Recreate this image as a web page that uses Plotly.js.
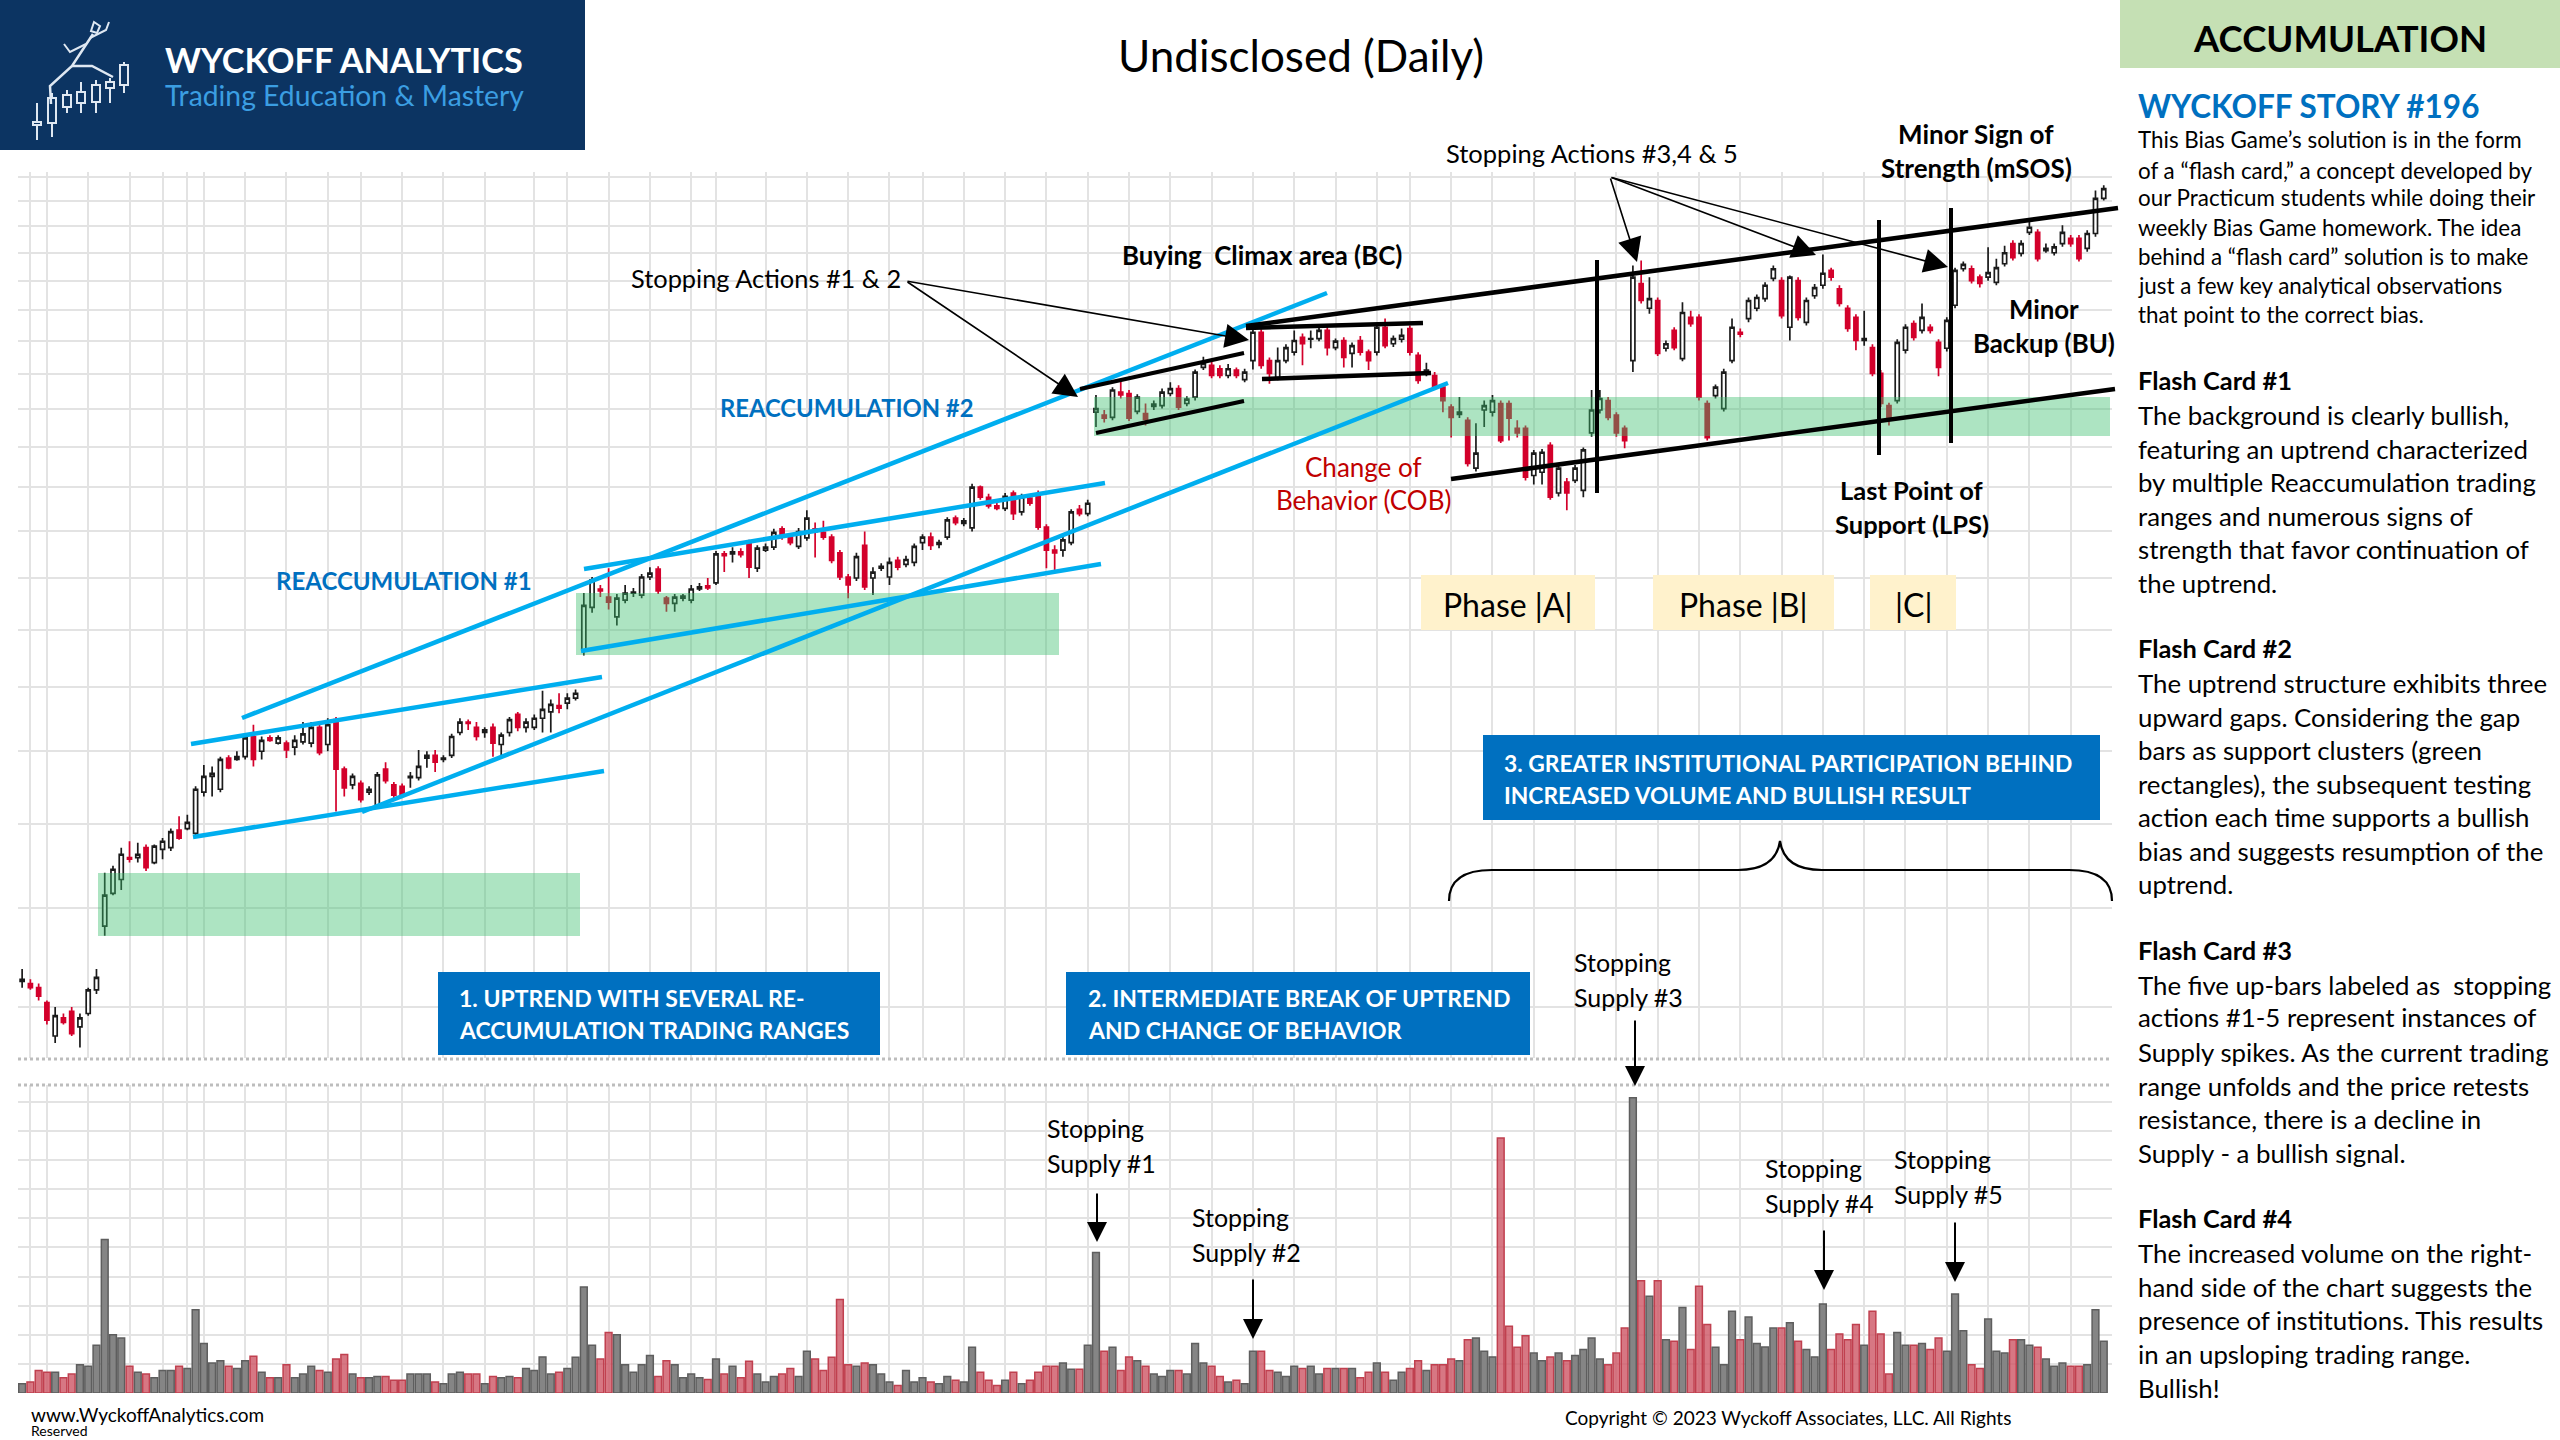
<!DOCTYPE html>
<html><head><meta charset="utf-8">
<script src="https://cdn.plot.ly/plotly-3.0.1.min.js"></script>
<style>html,body{margin:0;padding:0;background:#fff;}#chart{width:2560px;height:1440px;}</style>
</head><body><div id="chart"></div>
<script>
// ---------- DATA ----------
const openP = [
26.2,26.1,25.9,25.2,23.7,24.5,24.8,24.1,24.7,25.8,
29.0,30.8,31.6,32.9,32.9,33.5,32.6,33.4,33.5,34.6,
34.7,34.4,37.1,38.2,37.3,39.5,39.4,39.6,41.1,40.0,
41.0,40.6,40.6,40.3,40.7,40.6,41.8,40.5,42.4,38.7,
37.6,37.7,37.1,36.2,38.7,37.6,37.5,38.1,38.1,39.5,
39.7,39.4,39.7,41.4,42.2,41.8,41.4,41.8,40.5,41.4,
42.8,41.8,41.8,42.5,43.0,43.5,43.7,44.1,48.2,52.1,
53.9,53.1,51.2,52.8,53.5,53.3,55.1,55.9,53.0,52.5,
53.0,52.8,53.9,54.2,54.5,57.5,57.5,57.7,58.6,56.0,
57.9,58.2,60.2,59.3,58.3,59.2,60.2,59.8,59.3,57.6,
55.1,55.0,58.4,55.0,56.0,55.1,56.8,56.4,56.6,58.7,
59.3,58.5,59.3,61.4,60.8,60.3,65.0,63.8,62.8,62.5,
64.3,62.1,63.7,64.0,60.4,57.9,57.9,58.7,62.4,61.9,
74.6,74.2,73.9,77.4,77.2,74.7,74.4,75.4,75.5,77.2,
77.9,75.8,76.7,81.0,81.3,80.8,79.8,80.6,79.2,82.0,
86.4,82.0,79.5,82.0,83.3,85.6,85.3,85.4,86.7,84.0,
85.1,83.1,85.1,83.3,83.3,87.2,84.6,85.3,87.0,82.8,
80.1,79.8,78.1,75.3,74.3,73.5,67.3,74.9,74.6,75.8,
75.8,72.4,72.4,66.4,66.8,70.2,64.3,65.6,65.8,64.6,
71.8,74.9,76.2,74.2,72.4,82.0,94.5,90.3,91.6,83.9,
86.7,82.3,88.8,88.8,75.8,76.9,75.1,82.0,86.4,88.6,
90.3,91.9,95.4,95.0,87.2,95.0,88.0,92.4,94.2,96.8,
93.6,90.3,88.8,85.1,84.0,80.1,75.5,76.2,83.6,87.8,
86.7,87.2,84.8,83.9,90.8,97.1,97.1,95.6,95.6,94.7,
98.0,101.7,99.9,103.8,103.8,100.4,100.0,101.7,102.7,102.7,
100.8,103.6,110.5];
const highP = [
26.8,26.3,26.1,25.3,25.0,24.7,25.0,24.7,25.9,26.8,
32.0,32.4,33.5,33.9,33.8,33.7,33.7,34.1,34.7,35.5,
35.6,37.5,39.0,38.9,39.6,39.7,40.0,41.2,42.0,41.1,
41.2,41.2,40.8,41.2,42.2,42.2,42.0,42.5,42.6,38.9,
38.4,37.9,37.5,38.5,39.2,37.8,37.7,38.5,40.1,40.0,
40.1,39.7,41.3,42.5,42.4,42.2,41.8,42.1,41.4,42.6,
43.0,42.5,42.8,44.7,44.0,44.5,44.5,44.8,53.5,55.1,
54.3,56.0,53.4,54.3,54.0,55.4,56.1,56.2,53.2,53.4,
53.4,54.3,54.5,55.0,57.8,57.8,58.2,58.1,59.0,58.4,
58.6,60.2,60.5,59.6,60.3,62.3,60.9,61.1,59.6,57.9,
55.4,57.6,59.9,56.1,56.5,57.1,57.2,57.3,58.6,59.6,
59.8,59.0,61.5,61.7,61.4,65.4,65.2,64.2,63.2,64.3,
64.6,64.2,64.0,64.6,60.7,58.4,59.4,62.4,62.9,63.5,
77.0,74.9,78.1,78.9,77.7,77.1,75.8,76.2,77.9,78.8,
78.4,76.8,80.7,82.6,81.8,81.3,81.5,81.0,80.8,86.9,
86.9,82.5,84.0,84.5,86.7,86.2,86.7,87.2,87.2,85.4,
85.6,84.8,85.8,83.7,87.7,88.6,85.9,87.0,87.5,83.3,
81.7,80.3,78.5,75.7,76.7,73.9,73.1,76.2,77.0,76.2,
76.2,73.5,72.8,69.6,69.7,70.6,67.7,66.1,67.7,69.9,
77.7,77.7,76.7,74.6,72.8,97.7,98.6,95.6,92.1,85.1,
87.2,91.3,89.9,89.3,76.2,78.5,80.8,88.6,87.0,92.1,
92.6,94.7,97.7,95.6,95.9,95.6,92.1,94.4,99.7,97.3,
94.2,90.8,89.3,89.9,84.5,80.6,75.9,85.3,87.7,88.3,
91.1,87.7,85.3,88.8,97.3,98.4,97.7,96.1,101.0,98.9,
101.3,102.3,102.3,106.1,104.4,101.7,101.7,105.2,103.3,103.3,
104.2,112.1,113.2];
const lowP = [
25.9,25.8,25.3,24.2,23.4,24.2,23.7,23.2,24.6,25.6,
28.5,30.7,31.0,32.6,32.6,32.1,32.5,32.8,33.3,34.0,
34.6,34.2,36.8,36.8,37.1,38.7,39.3,39.4,38.9,39.4,
40.7,40.5,39.5,39.7,40.5,40.3,39.7,40.0,35.8,36.8,
37.3,36.4,36.9,36.0,37.7,36.7,36.7,37.4,37.9,38.8,
38.5,39.2,39.5,41.2,41.6,40.8,41.0,39.6,39.6,41.1,
41.5,41.4,41.6,41.4,41.4,42.9,43.2,43.9,47.7,51.6,
53.1,51.9,50.4,52.5,53.1,53.0,54.8,53.4,51.7,51.7,
52.7,52.5,53.7,53.8,54.3,55.6,56.6,57.1,55.0,55.6,
57.7,57.9,59.0,58.4,58.0,58.9,57.1,59.0,56.5,54.8,
53.0,54.7,53.8,53.3,55.7,54.3,55.8,56.1,56.2,57.9,
57.9,58.1,59.0,60.6,60.5,59.9,63.5,62.5,62.3,62.2,
61.2,61.7,62.8,60.1,56.0,55.5,57.2,58.4,61.6,61.6,
72.6,73.2,73.5,76.5,73.4,74.3,72.8,74.9,75.1,76.8,
74.9,75.4,76.2,80.6,79.4,79.4,79.4,79.4,78.8,80.7,
80.8,78.6,79.1,81.6,82.8,81.3,83.9,85.0,82.8,83.6,
81.0,81.0,82.8,80.6,82.8,83.9,84.1,84.8,82.8,78.6,
79.7,77.7,74.6,71.2,73.8,67.5,66.9,72.6,74.0,70.5,
70.8,71.2,65.8,65.3,65.3,63.5,63.9,62.3,65.5,63.8,
71.3,74.4,73.5,71.3,69.8,80.3,91.1,89.4,82.7,83.4,
83.6,81.9,87.3,76.2,70.8,76.5,74.7,81.6,85.6,88.0,
89.8,91.4,94.9,88.6,85.1,88.3,87.5,91.9,93.6,95.0,
90.6,86.5,83.6,84.3,79.7,75.3,72.8,75.8,83.1,85.1,
86.2,86.2,79.7,83.4,90.3,96.6,94.5,93.8,95.0,94.2,
97.5,98.6,99.3,103.3,98.4,100.0,99.5,101.1,101.1,98.4,
100.2,103.0,110.1];
const closeP = [
26.3,25.9,25.5,24.4,24.6,24.3,23.8,24.5,25.8,26.4,
30.7,32.2,33.1,32.8,33.1,32.3,33.6,33.9,34.5,34.1,
35.1,37.3,38.2,38.4,39.4,38.8,39.6,41.0,39.4,40.8,
40.8,41.0,40.1,40.8,41.3,41.8,39.9,42.0,38.7,37.4,
38.2,36.6,37.3,38.3,37.9,36.9,36.9,38.2,38.9,39.7,
39.2,39.5,41.1,42.2,42.1,41.1,41.6,40.6,41.2,42.4,
41.8,42.2,42.5,43.2,43.6,43.3,44.1,44.5,52.3,54.8,
53.7,52.6,53.0,53.5,53.6,55.1,55.5,53.7,52.5,53.1,
53.2,53.9,54.1,54.0,57.5,57.3,57.7,57.4,56.1,58.1,
58.2,59.8,59.5,58.7,59.9,61.4,59.9,59.3,56.8,55.1,
54.3,57.2,54.1,55.6,56.2,56.6,56.1,56.9,58.3,59.3,
58.4,58.7,61.2,60.9,61.1,65.0,63.8,62.8,62.5,63.9,
61.9,63.8,63.1,60.4,57.9,57.6,59.0,62.1,61.9,63.1,
75.1,73.8,77.7,77.0,73.8,76.7,73.6,75.7,77.4,77.9,
75.3,76.4,80.3,81.6,79.8,79.8,80.8,79.8,80.3,86.4,
81.3,80.1,82.0,84.0,85.1,84.6,85.4,86.7,84.0,85.0,
82.5,84.3,83.3,82.0,87.2,84.3,85.4,85.9,83.3,79.1,
80.6,78.1,76.2,73.9,74.6,67.9,69.2,75.5,76.2,70.8,
73.8,71.8,66.2,69.2,69.3,63.8,67.3,64.3,67.3,69.6,
74.9,76.5,73.9,71.8,70.8,95.6,91.6,91.9,83.1,84.6,
84.0,89.6,87.8,76.7,71.2,78.1,80.3,87.2,86.1,91.6,
92.1,94.2,97.1,89.1,95.6,88.8,91.6,93.8,96.3,95.6,
91.1,87.0,85.1,85.4,80.1,75.8,73.9,84.8,87.2,85.6,
88.8,86.7,81.0,88.3,96.8,97.9,95.0,94.5,96.4,97.3,
100.0,99.1,101.7,104.8,98.9,100.8,101.1,103.8,101.7,98.9,
103.6,110.5,112.5];
const volumeM = [
0.32,0.38,0.77,0.71,0.71,0.52,0.65,0.97,0.92,1.64,
5.27,2.00,1.89,0.92,0.71,0.65,0.52,0.77,0.77,0.92,
0.84,2.86,1.70,1.03,1.11,0.92,0.84,1.11,1.26,0.71,
0.52,0.52,0.97,0.52,0.65,0.92,0.77,0.71,1.17,1.32,
0.65,0.52,0.52,0.57,0.57,0.44,0.44,0.65,0.65,0.65,
0.38,0.32,0.65,0.71,0.65,0.65,0.32,0.57,0.52,0.57,
0.52,0.84,0.77,1.24,0.65,0.71,0.84,1.23,3.64,1.64,
1.17,2.08,2.00,0.97,0.71,0.97,1.29,0.57,1.11,0.97,
0.52,0.65,0.52,0.46,1.17,0.65,0.92,0.52,1.09,0.65,
0.38,0.57,0.65,0.84,0.57,1.43,1.17,0.77,1.23,3.21,
0.97,0.92,1.03,0.97,0.65,0.38,0.26,0.77,0.38,0.52,
0.38,0.32,0.57,0.44,0.38,1.57,0.71,0.44,0.26,0.44,
0.71,0.32,0.44,0.71,0.92,0.92,1.03,0.82,0.82,1.64,
4.83,1.43,1.57,0.77,1.24,1.11,0.92,0.65,0.57,0.77,
0.77,0.65,1.70,1.03,0.92,0.57,0.38,0.44,0.32,1.43,
1.43,0.77,0.71,0.57,0.92,0.84,0.92,0.65,0.84,0.84,
0.84,0.84,0.52,0.71,1.03,0.71,0.44,0.71,0.84,1.11,
0.77,0.97,0.97,1.17,1.11,1.83,1.89,1.43,1.24,8.76,
2.29,1.57,1.97,1.37,1.11,1.24,1.37,1.11,1.29,1.49,
1.89,1.17,0.97,1.37,2.23,10.14,3.86,3.32,3.86,1.83,
1.78,2.94,1.49,3.67,2.35,1.57,0.97,2.81,1.83,2.61,
1.70,1.58,2.23,2.23,2.41,1.78,1.49,1.24,3.06,1.49,
2.03,1.83,2.35,1.64,2.81,2.03,0.65,2.08,1.64,1.64,
1.70,1.49,1.89,1.43,3.40,2.14,0.97,0.84,2.54,1.43,
1.37,1.83,1.83,1.64,1.57,1.17,0.92,1.03,0.92,0.92,
0.97,2.86,1.78];
const weekStarts = [1,3,8,13,17,20,22,27,32,37,41,46,51,56,62,66,71,76,81,84,90,95,100,105,109,114,119,124,
  129,134,139,144,149,154,159,164,168,173,178,183,188,193,198,203,208,213,218,223,228,233,238,243,248];
const priceGrid = [25,30,35,40,45,50,55,60,65,70,75,80,85,90,95,100,105,110,115];

// ---------- helpers (page pixels -> paper) ----------
const W = 2560, H = 1440;
const X = x => x / W, Y = y => 1 - y / H;
const FONT = 'Lato, "Open Sans", sans-serif';
const bars = openP.map((_, i) => i);
const up = closeP.map((c, i) => c >= openP[i]);

const shapes = [], annotations = [];
function line(x1, y1, x2, y2, color, width, dash) {
  shapes.push({type:'line', xref:'paper', yref:'paper', x0:X(x1), y0:Y(y1), x1:X(x2), y1:Y(y2),
    line:{color:color, width:width, dash:dash||'solid'}, layer:'above'});
}
function rect(x1, y1, x2, y2, fill, lc, lw, layer) {
  shapes.push({type:'rect', xref:'paper', yref:'paper', x0:X(x1), y0:Y(y2), x1:X(x2), y1:Y(y1),
    fillcolor:fill, line:{color:lc||'rgba(0,0,0,0)', width:lw||0}, layer:layer||'above'});
}
function path(cmds, color, width, fill) {
  const d = cmds.map(c => c[0] + ' ' + c.slice(1).map((v, k) => (k % 2 === 0 ? X(v) : Y(v)).toFixed(5)).join(' ')).join(' ');
  shapes.push({type:'path', xref:'paper', yref:'paper', path:d, line:{color:color, width:width},
    fillcolor: fill || 'rgba(0,0,0,0)', layer:'above'});
}
function text(t, x, y, size, opts) {
  opts = opts || {};
  annotations.push({text:t, x:X(x), y:Y(y), xref:'paper', yref:'paper', showarrow:false,
    xanchor:opts.anchor||'left', yanchor:'middle', align:opts.anchor||'left',
    font:{family:FONT, size:size, color:opts.color||'#000'}});
}
function arrow(x1, y1, x2, y2, w, size) {
  annotations.push({text:'', x:X(x2), y:Y(y2), xref:'paper', yref:'paper', ax:x1 - x2, ay:y1 - y2,
    axref:'pixel', ayref:'pixel', showarrow:true, arrowhead:2, arrowsize:size, arrowwidth:w,
    arrowcolor:'#000', standoff:0, startstandoff:0});
}

// ---------- logo ----------
rect(0, 0, 585, 150, '#0c3462', null, 0, 'below');
const logoC = [[37,103,122,125,140],[52,93,98,123,137],[67,90,95,107,113],[81,82,92,103,113],[96,80,85,102,113],[110,78,82,88,103],[124,62,65,85,93]];
logoC.forEach(c => { line(c[0], c[1], c[0], c[4], '#dfe8f2', 2); rect(c[0]-4, c[2], c[0]+4, c[3], '#0c3462', '#dfe8f2', 2); });
path([['M',94,22],['L',100,26],['L',97,33],['L',91,31],['Z']], '#dfe8f2', 2);
path([['M',93,34],['L',72,66],['L',50,86],['L',51,104]], '#dfe8f2', 2.5);
path([['M',72,66],['L',92,66],['L',113,77]], '#dfe8f2', 2.5);
path([['M',90,38],['L',106,30],['L',109,22]], '#dfe8f2', 2);
path([['M',86,44],['L',70,52],['L',64,44]], '#dfe8f2', 2);
text('<b>WYCKOFF ANALYTICS</b>', 163, 60, 34.3, {color:'#ffffff'});
text('Trading Education &amp; Mastery', 163, 95, 28.3, {color:'#3b9ee2'});

// ---------- title ----------
text('Undisclosed (Daily)', 1301, 55, 44, {anchor:'center'});

// ---------- right text panel ----------
rect(2120, 0, 2560, 68, '#c5e0b4', null, 0, 'below');
text('<b>ACCUMULATION</b>', 2340, 38, 36.5, {anchor:'center'});
text('<b>WYCKOFF STORY #196</b>', 2136, 106, 31.5, {color:'#0070c0'});
const intro = ['This Bias Game’s solution is in the form','of a “flash card,” a concept developed by',
  'our Practicum students while doing their','weekly Bias Game homework. The idea',
  'behind a “flash card” solution is to make','just a few key analytical observations','that point to the correct bias.'];
[140,170,198,227,256,286,314].forEach((y, k) => text(intro[k], 2136, y, 22.4));
const cards = [
  {h:'Flash Card #1', y:380, ys:[415,449,482,516,549,583], lines:['The background is clearly bullish,','featuring an uptrend characterized','by multiple Reaccumulation trading','ranges and numerous signs of','strength that favor continuation of','the uptrend.']},
  {h:'Flash Card #2', y:648, ys:[683,717,750,784,817,851,884], lines:['The uptrend structure exhibits three','upward gaps. Considering the gap','bars as support clusters (green','rectangles), the subsequent testing','action each time supports a bullish','bias and suggests resumption of the','uptrend.']},
  {h:'Flash Card #3', y:950, ys:[985,1017,1052,1086,1119,1153], lines:['The five up-bars labeled as  stopping','actions #1-5 represent instances of','Supply spikes. As the current trading','range unfolds and the price retests','resistance, there is a decline in','Supply - a bullish signal.']},
  {h:'Flash Card #4', y:1218, ys:[1253,1287,1320,1354,1388], lines:['The increased volume on the right-','hand side of the chart suggests the','presence of institutions. This results','in an upsloping trading range.','Bullish!']}
];
cards.forEach(c => { text('<b>' + c.h + '</b>', 2136, c.y, 25.4); c.lines.forEach((t, k) => text(t, 2136, c.ys[k], 25.8)); });

// ---------- chart decorations ----------
rect(98, 873, 580, 936, 'rgba(60,190,110,0.42)');
rect(576, 593, 1059, 655, 'rgba(60,190,110,0.42)');
rect(1094, 397, 2110, 436, 'rgba(60,190,110,0.42)');
const BL = '#00aeef';
line(242, 718, 1327, 293, BL, 4.5);
line(191, 744, 602, 677, BL, 4.5);
line(193, 837, 604, 771, BL, 4.5);
line(362, 812, 1448, 383, BL, 4.5);
line(584, 569, 1105, 483, BL, 4.5);
line(581, 651, 1101, 564, BL, 4.5);
line(1080, 389, 1244, 353, '#000', 4);
line(1096, 433, 1244, 401, '#000', 4);
line(1246, 328, 1423, 323, '#000', 4.5);
line(1262, 379, 1431, 373, '#000', 4.5);
line(1246, 326, 2118, 208, '#000', 4.5);
line(1451, 479, 2115, 389, '#000', 4.5);
line(1597, 260, 1597, 493, '#000', 4);
line(1879, 220, 1879, 455, '#000', 4);
line(1951, 208, 1951, 443, '#000', 4);
line(18, 1059, 2112, 1059, '#bdbdbd', 3, 'dot');
line(18, 1085, 2112, 1085, '#bdbdbd', 3, 'dot');
rect(1421, 575, 1595, 630, '#fff2cc');
rect(1653, 575, 1834, 630, '#fff2cc');
rect(1870, 575, 1956, 630, '#fff2cc');
text('Phase |A|', 1508, 605, 32, {anchor:'center'});
text('Phase |B|', 1743, 605, 32, {anchor:'center'});
text('|C|', 1913, 605, 32, {anchor:'center'});
rect(438, 972, 880, 1055, '#0070c0');
rect(1066, 972, 1530, 1055, '#0070c0');
rect(1483, 735, 2100, 820, '#0070c0');
text('<b>1. UPTREND WITH SEVERAL RE-</b>', 457, 998, 23, {color:'#fff'});
text('<b>ACCUMULATION TRADING RANGES</b>', 457, 1030, 23, {color:'#fff'});
text('<b>2. INTERMEDIATE BREAK OF UPTREND</b>', 1086, 998, 23, {color:'#fff'});
text('<b>AND CHANGE OF BEHAVIOR</b>', 1086, 1030, 23, {color:'#fff'});
text('<b>3. GREATER INSTITUTIONAL PARTICIPATION BEHIND</b>', 1502, 763, 22.8, {color:'#fff'});
text('<b>INCREASED VOLUME AND BULLISH RESULT</b>', 1502, 795, 22.8, {color:'#fff'});
path([['M',1449,901],['Q',1449,870,1492,870],['L',1738,870],['Q',1776,870,1780,841],['Q',1784,870,1822,870],['L',2069,870],['Q',2112,870,2112,901]], '#000', 2.2);
text('Stopping Actions #1 &amp; 2', 629, 278, 25.4);
arrow(906, 281, 1078, 397, 1.6, 3);
arrow(906, 281, 1249, 340, 1.6, 3);
text('<b>Buying  Climax area (BC)</b>', 1120, 255, 25.8);
text('<b>REACCUMULATION #2</b>', 718, 408, 23.8, {color:'#0070c0'});
text('<b>REACCUMULATION #1</b>', 274, 580, 24, {color:'#0070c0'});
text('Change of', 1363, 467, 26, {anchor:'center', color:'#c00000'});
text('Behavior (COB)', 1363, 500, 26, {anchor:'center', color:'#c00000'});
text('Stopping Actions #3,4 &amp; 5', 1444, 153, 25.5);
arrow(1610, 177, 1637, 262, 1.6, 3);
arrow(1610, 177, 1816, 255, 1.6, 3);
arrow(1610, 177, 1948, 267, 1.6, 3);
text('<b>Minor Sign of</b>', 1976, 134, 26, {anchor:'center'});
text('<b>Strength (mSOS)</b>', 1976, 168, 26, {anchor:'center'});
text('<b>Minor</b>', 2044, 309, 25.8, {anchor:'center'});
text('<b>Backup (BU)</b>', 2044, 343, 25.8, {anchor:'center'});
text('<b>Last Point of</b>', 1912, 490, 25.5, {anchor:'center'});
text('<b>Support (LPS)</b>', 1912, 524, 25.5, {anchor:'center'});
const ss = [[1045,1128,'#1',1097,1192,1242],[1190,1217,'#2',1253,1278,1339],[1572,962,'#3',1635,1019,1086],[1763,1168,'#4',1824,1229,1290],[1892,1159,'#5',1955,1221,1282]];
ss.forEach(s => { text('Stopping', s[0], s[1], 25); text('Supply ' + s[2], s[0], s[1] + 35, 25); arrow(s[3], s[4], s[3], s[5], 2, 2); });
text('www.WyckoffAnalytics.com', 29, 1414, 19);
text('Reserved', 29, 1430, 14);
text('Copyright © 2023 Wyckoff Associates, LLC. All Rights', 1563, 1417, 19);

// ---------- traces ----------
const candles = {type:'candlestick', x:bars, open:openP, high:highP, low:lowP, close:closeP,
  xaxis:'x', yaxis:'y', whiskerwidth:0, hoverinfo:'skip',
  increasing:{line:{color:'#1b1b1b', width:1.7}, fillcolor:'#ffffff'},
  decreasing:{line:{color:'#d3002b', width:1.7}, fillcolor:'#d3002b'}};
const vol = {type:'bar', x:bars, y:volumeM, xaxis:'x2', yaxis:'y2', hoverinfo:'skip',
  marker:{color: up.map(u => u ? '#858585' : 'rgba(205,85,100,0.8)'),
          line:{color: up.map(u => u ? '#5e5e5e' : '#c0404f'), width:1.5}}};

const grid = '#e3e3e3';
const xCommon = {domain:[18/W, 2112/W], range:[-0.5, 253], showticklabels:false, tickmode:'array',
  tickvals:weekStarts, showgrid:true, gridcolor:grid, gridwidth:2, zeroline:false, showline:false, ticks:'', fixedrange:true};
const layout = {
  width:W, height:H, margin:{l:0, r:0, t:0, b:0}, paper_bgcolor:'#ffffff', plot_bgcolor:'rgba(0,0,0,0)',
  showlegend:false, bargap:0.18, font:{family:FONT},
  xaxis:Object.assign({}, xCommon, {anchor:'y', rangeslider:{visible:false}}),
  xaxis2:Object.assign({}, xCommon, {anchor:'y2'}),
  yaxis:{domain:[1 - 1058/H, 1 - 172/H], type:'log', range:[Math.log10(22.76), Math.log10(116)],
    tickmode:'array', tickvals:priceGrid, showticklabels:false, showgrid:true, gridcolor:grid, gridwidth:2,
    zeroline:false, showline:false, ticks:'', anchor:'x', fixedrange:true},
  yaxis2:{domain:[1 - 1393/H, 1 - 1085/H], range:[0, 10.58], tick0:0, dtick:1, showticklabels:false,
    showgrid:true, gridcolor:grid, gridwidth:2, zeroline:false, showline:false, ticks:'', anchor:'x2', fixedrange:true},
  shapes:shapes, annotations:annotations
};
Plotly.newPlot('chart', [candles, vol], layout, {staticPlot:true, displayModeBar:false});
</script>
</body></html>
